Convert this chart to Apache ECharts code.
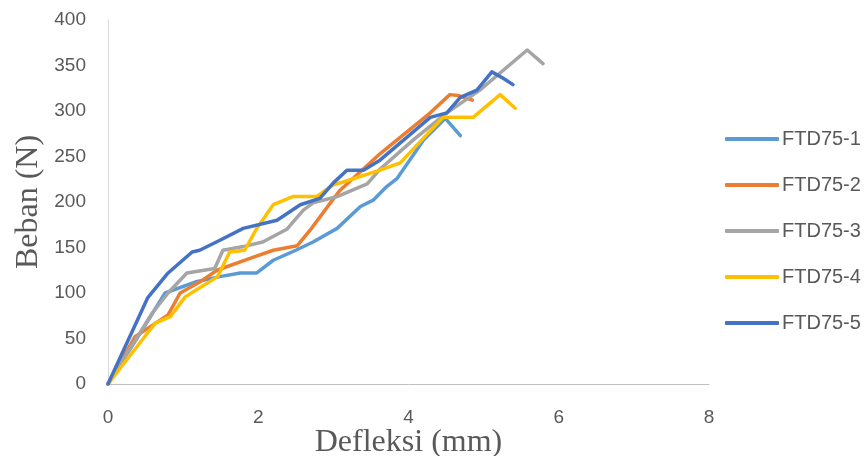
<!DOCTYPE html>
<html>
<head>
<meta charset="utf-8">
<script src="https://cdn.jsdelivr.net/npm/echarts@6/dist/echarts.min.js"></script>
<style>html,body{margin:0;padding:0;background:#fff;}#c{width:867px;height:456px;}</style>
</head>
<body>
<div id="c"></div>
<script>
const seriesNames = ['FTD75-1','FTD75-2','FTD75-3','FTD75-4','FTD75-5'];
const xTicks = [0, 2, 4, 6, 8];
const yTicks = [0, 50, 100, 150, 200, 250, 300, 350, 400];

const ftd1 = [[0,0],[0.4,52],[0.76,100],[1.16,112],[1.49,118],[1.76,122],[1.98,122],[2.2,136],[2.5,147],[2.73,156],[3.05,171],[3.36,195],[3.53,202],[3.71,217],[3.85,226],[4.2,268],[4.49,292],[4.69,273]];
const ftd2 = [[0,0],[0.36,52],[0.8,76],[0.96,100],[1.22,112],[1.45,125],[1.89,138],[2.2,147],[2.52,152],[2.69,169],[2.96,199],[3.09,213],[3.62,253],[4.29,298],[4.55,318],[4.66,317],[4.85,312]];
const ftd3 = [[0,0],[0.59,78],[0.8,100],[1.05,122],[1.42,127],[1.53,147],[1.8,151],[2.06,156],[2.38,170],[2.6,191],[2.73,199],[3.05,206],[3.45,220],[3.62,236],[4.06,268],[4.51,298],[4.95,323],[5.58,367],[5.79,352]];
const ftd4 = [[0,0],[0.63,67],[0.83,74],[1.03,96],[1.46,118],[1.62,145],[1.82,147],[1.98,171],[2.2,197],[2.46,206],[2.78,206],[3.0,219],[3.13,222],[3.62,235],[3.89,243],[4.46,293],[4.86,293],[5.22,318],[5.42,303]];
const ftd5 = [[0,0],[0.53,95],[0.8,122],[1.12,145],[1.22,147],[1.49,158],[1.8,171],[2.25,180],[2.56,197],[2.82,204],[3.0,221],[3.18,235],[3.4,235],[3.62,246],[4.02,274],[4.29,293],[4.51,298],[4.69,315],[4.91,323],[5.11,343],[5.26,336],[5.39,329]];

const colors = ['#5B9BD5','#ED7D31','#A5A5A5','#FFC000','#4472C4'];
const allData = [ftd1, ftd2, ftd3, ftd4, ftd5];

const chart = echarts.init(document.getElementById('c'));
chart.setOption({
  animation: false,
  backgroundColor: '#fff',
  color: colors,
  grid: {left: 108, right: 158, top: 20, bottom: 72, containLabel: false, outerBoundsMode: 'none'},
  legend: {
    orient: 'vertical', left: 720, top: 124, itemGap: 26,
    itemWidth: 54, itemHeight: 4, icon: 'roundRect',
    textStyle: {color: '#595959', fontSize: 20, fontFamily: 'Liberation Sans', padding: [0,0,0,-2]},
    data: seriesNames
  },
  xAxis: {
    type: 'value', min: xTicks[0], max: xTicks[xTicks.length-1], interval: 2,
    name: 'Defleksi (mm)', nameLocation: 'middle', nameGap: 43, nameMoveOverlap: false,
    nameTextStyle: {fontFamily: 'Liberation Serif', fontSize: 32, color: '#595959'},
    axisLine: {show: true, lineStyle: {color: '#BFBFBF', width: 1}},
    axisTick: {show: false},
    axisLabel: {color: '#595959', fontSize: 19, fontFamily: 'Liberation Sans', margin: 24},
    splitLine: {show: false}
  },
  yAxis: {
    type: 'value', min: yTicks[0], max: yTicks[yTicks.length-1], interval: 50,
    name: 'Beban (N)', nameLocation: 'middle', nameGap: 63, nameRotate: 90, nameMoveOverlap: false,
    nameTextStyle: {fontFamily: 'Liberation Serif', fontSize: 32, color: '#595959'},
    axisLine: {show: true, lineStyle: {color: '#D9D9D9', width: 1}},
    axisTick: {show: false},
    axisLabel: {color: '#595959', fontSize: 19, fontFamily: 'Liberation Sans', margin: 22},
    splitLine: {show: false}
  },
  series: seriesNames.map((n, i) => ({
    name: n, type: 'line', data: allData[i], symbol: 'none',
    lineStyle: {width: 3.5, color: colors[i], join: 'round', cap: 'round'},
    itemStyle: {color: colors[i]}
  }))
});
</script>
</body>
</html>
